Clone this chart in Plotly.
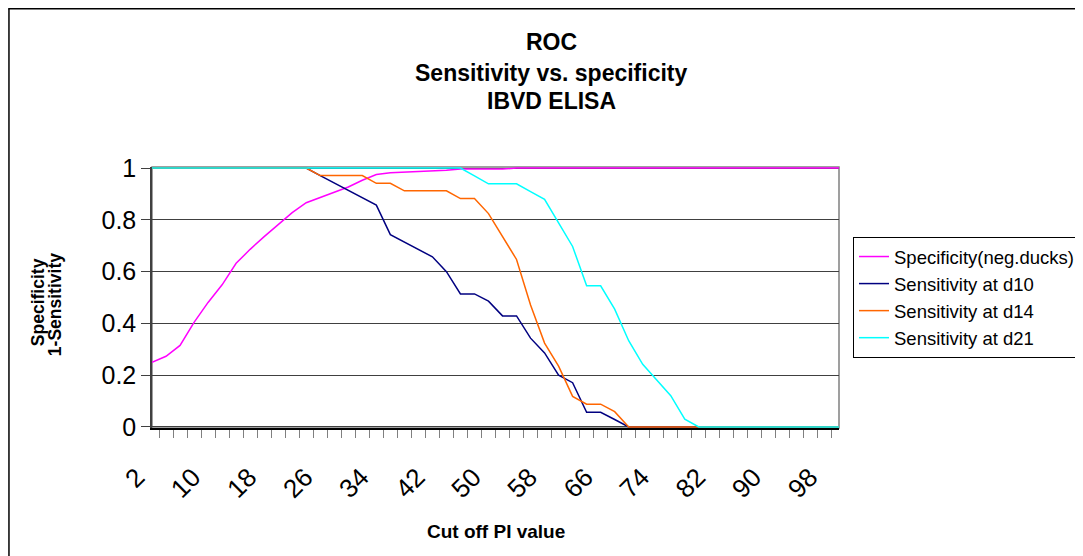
import plotly.graph_objects as go

cutoff = [str(v) for v in range(2, 101, 2)]
tick_labels = ["2", "10", "18", "26", "34", "42", "50", "58", "66", "74", "82", "90", "98"]

specificity = [0.25, 0.273, 0.315, 0.404, 0.481, 0.549, 0.632, 0.686, 0.735, 0.783,
               0.828, 0.866, 0.886, 0.908, 0.927, 0.953, 0.975, 0.982, 0.984, 0.987,
               0.99, 0.991, 0.996, 0.996, 0.996, 0.996] + [1.0] * 24
sens_d10 = [1.0] * 12 + [0.971, 0.943, 0.914, 0.886, 0.857, 0.743, 0.714, 0.686, 0.657,
                         0.6, 0.514, 0.514, 0.486, 0.429, 0.429, 0.343, 0.286, 0.2, 0.171,
                         0.057, 0.057, 0.029] + [0.0] * 16
sens_d14 = [1.0] * 12 + [0.971, 0.971, 0.971, 0.971, 0.941, 0.941, 0.912, 0.912, 0.912,
                         0.912, 0.882, 0.882, 0.824, 0.735, 0.647, 0.471, 0.324, 0.235,
                         0.118, 0.088, 0.088, 0.059] + [0.0] * 16
sens_d21 = [1.0] * 23 + [0.970, 0.939, 0.939, 0.939, 0.909, 0.879, 0.788, 0.697, 0.545,
                         0.545, 0.455, 0.333, 0.242, 0.182, 0.121, 0.030] + [0.0] * 11

series = [
    ("Specificity(neg.ducks)", specificity, "#FF00FF"),
    ("Sensitivity at d10", sens_d10, "#000080"),
    ("Sensitivity at d14", sens_d14, "#FF6600"),
    ("Sensitivity at d21", sens_d21, "#00FFFF"),
]

FONT = "Liberation Sans, Arial, sans-serif"

fig = go.Figure()
for i, (name, vals, color) in enumerate(series):
    fig.add_trace(go.Scatter(x=cutoff, y=vals, mode="lines", name=name,
                             legendgroup=f"g{i}",
                             line=dict(color=color, width=1.5)))

# page offset of the figure inside the html body
OFF = 8
W, H = 1083, 556
L, R, T, B = 144, 251, 159, 136
pw, ph = W - L - R, H - T - B


def px(x):
    return (x - OFF - L) / pw


def py(y):
    return (H - B - (y - OFF)) / ph


ticktext = [c if c in tick_labels else "" for c in cutoff]
pad = 0.004

fig.update_layout(
    width=W, height=H,
    margin=dict(l=L, r=R, t=T, b=B),
    paper_bgcolor="white", plot_bgcolor="white",
    font=dict(family=FONT, color="black"),
    showlegend=True,
    legend=dict(x=px(853), y=py(237), xanchor="left", yanchor="top",
                bordercolor="black", borderwidth=1, bgcolor="white",
                font=dict(size=18.5, family=FONT), tracegroupgap=0,
                itemwidth=30),
    xaxis=dict(type="category", categoryorder="array", categoryarray=cutoff,
               tickmode="array", tickvals=cutoff, ticktext=ticktext,
               tickson="boundaries", ticks="outside", ticklen=8, tickcolor="#808080",
               tickangle=-45, tickfont=dict(size=26, family=FONT),
               ticklabelstandoff=22, ticklabelshift=-15,
               showline=True, linecolor="black", linewidth=1.5,
               layer="below traces",
               showgrid=False, zeroline=False),
    yaxis=dict(range=[-pad, 1 + pad], tickmode="array",
               tickvals=[0, 0.2, 0.4, 0.6, 0.8, 1], ticktext=["0", "0.2", "0.4", "0.6", "0.8", "1"],
               ticks="outside", ticklen=9,
               tickcolor="#404040", tickfont=dict(size=25, family=FONT),
               showline=True, linecolor="#404040", linewidth=1.5,
               layer="below traces",
               showgrid=True, gridcolor="#404040", gridwidth=1, zeroline=False),
    shapes=[
        dict(type="rect", xref="paper", yref="paper", x0=0, x1=1, y0=0, y1=1,
             line=dict(color="#808080", width=1.5), layer="below"),
        dict(type="line", xref="paper", yref="paper", x0=px(OFF + 0.75), x1=px(OFF + 0.75),
             y0=py(560), y1=py(OFF + 0.75), line=dict(color="black", width=1.5)),
        dict(type="line", xref="paper", yref="paper", x0=px(OFF), x1=px(1090),
             y0=py(OFF + 0.75), y1=py(OFF + 0.75), line=dict(color="black", width=1.5)),
    ],
    annotations=[
        dict(text="<b>ROC</b>", xref="paper", yref="paper", x=px(552), y=py(42),
             showarrow=False, font=dict(size=23, family=FONT), yanchor="middle"),
        dict(text="<b>Sensitivity vs. specificity</b>", xref="paper", yref="paper",
             x=px(552), y=py(73), showarrow=False, font=dict(size=23, family=FONT),
             yanchor="middle"),
        dict(text="<b>IBVD ELISA</b>", xref="paper", yref="paper", x=px(552), y=py(101),
             showarrow=False, font=dict(size=23, family=FONT), yanchor="middle"),
        dict(text="<b>Specificity</b>", xref="paper", yref="paper", x=px(38), y=py(302),
             textangle=-90, showarrow=False, font=dict(size=17.5, family=FONT),
             xanchor="center", yanchor="middle"),
        dict(text="<b>1-Sensitivity</b>", xref="paper", yref="paper", x=px(55), y=py(305),
             textangle=-90, showarrow=False, font=dict(size=17.5, family=FONT),
             xanchor="center", yanchor="middle"),
        dict(text="<b>Cut off PI value</b>", xref="paper", yref="paper", x=px(496),
             y=py(531), showarrow=False, font=dict(size=19, family=FONT),
             xanchor="center", yanchor="middle"),
    ],
)

fig.write_html("out.html")
